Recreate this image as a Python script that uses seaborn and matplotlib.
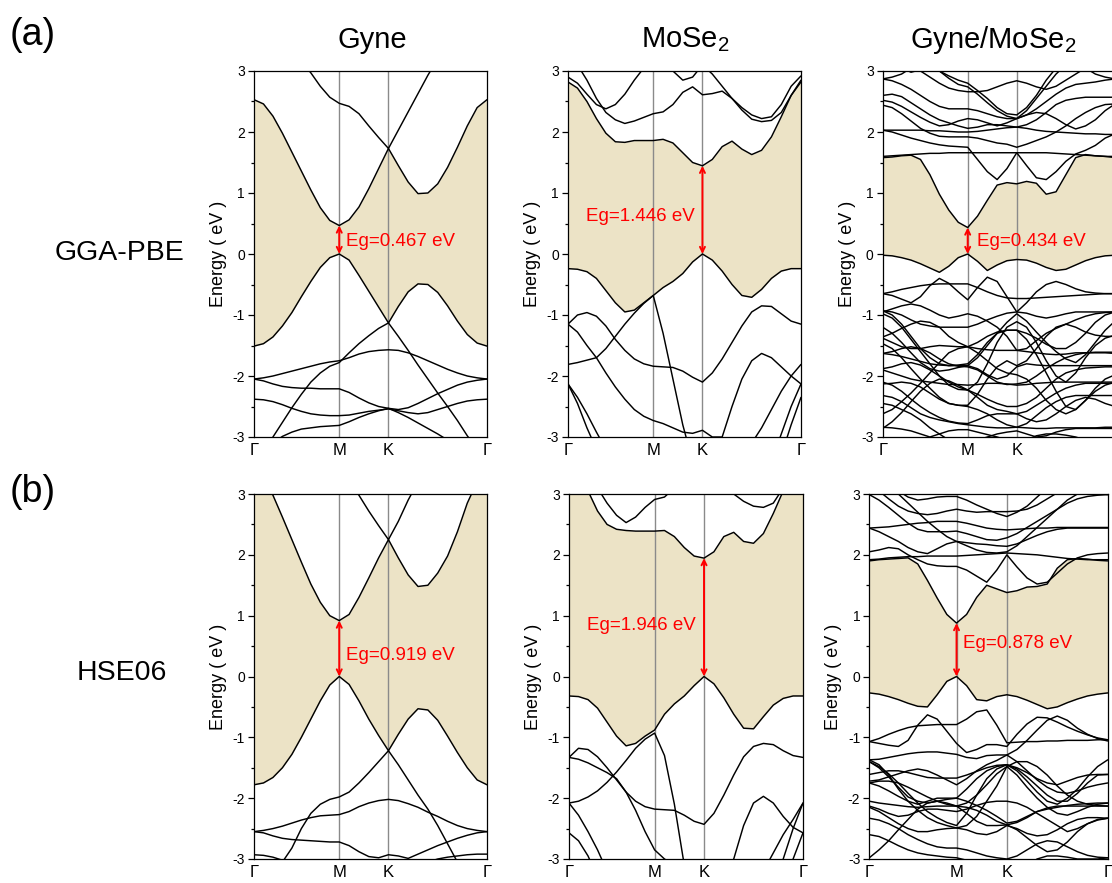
import numpy as np
import pandas as pd
import matplotlib
matplotlib.use("Agg")
import matplotlib.pyplot as plt
import seaborn as sns

sns.set_style("ticks")
plt.rcParams['font.family'] = ['Liberation Sans', 'DejaVu Sans']
plt.rcParams['mathtext.fontset'] = 'custom'
plt.rcParams['mathtext.rm'] = 'Liberation Sans'
plt.rcParams['mathtext.it'] = 'Liberation Sans:italic'
plt.rcParams['axes.unicode_minus'] = False
for key in ('text.color', 'axes.labelcolor', 'xtick.color', 'ytick.color', 'axes.edgecolor'):
    plt.rcParams[key] = 'black'

# ---------------- data ----------------
# high-symmetry path Γ-M-K-Γ (segment lengths) and samples per segment
SEG_LEN = [0.577, 0.333, 0.667]
SEG_STEPS = [9, 5, 10]
K_LABELS = ["Γ", "M", "K", "Γ"]

# Gyne, GGA-PBE
gyne_pbe_vb1 = [-1.51, -1.47, -1.36, -1.18, -0.96, -0.70, -0.45, -0.22, -0.06, 0.0, -0.10, -0.35, -0.61, -0.87, -1.13,
                -0.86, -0.62, -0.49, -0.50, -0.63, -0.85, -1.10, -1.32, -1.46, -1.51]
gyne_pbe_cb1 = [2.53, 2.46, 2.26, 1.98, 1.67, 1.36, 1.05, 0.76, 0.55, 0.467, 0.56, 0.77, 1.07, 1.40, 1.73,
                1.45, 1.18, 0.99, 1.00, 1.15, 1.42, 1.75, 2.10, 2.40, 2.53]
gyne_pbe_other = [
    [3.9, 3.8, 3.7, 3.55, 3.4, 3.15, 2.97, 2.75, 2.57, 2.47, 2.42, 2.30, 2.10, 1.91, 1.73, 2.03, 2.33, 2.63, 2.93, 3.2, 3.45, 3.65, 3.8, 3.9, 3.95],
    [-3.6, -3.3, -3.0, -2.76, -2.52, -2.30, -2.10, -1.95, -1.84, -1.78, -1.62, -1.47, -1.34, -1.22, -1.13, -1.35, -1.58, -1.82, -2.05, -2.28, -2.50, -2.73, -2.98, -3.2, -3.4],
    [-2.05, -2.03, -2.00, -1.96, -1.92, -1.88, -1.84, -1.80, -1.77, -1.75, -1.70, -1.64, -1.60, -1.58, -1.57, -1.58, -1.62, -1.68, -1.75, -1.82, -1.89, -1.95, -2.00, -2.03, -2.05],
    [-2.05, -2.08, -2.13, -2.17, -2.19, -2.20, -2.20, -2.21, -2.21, -2.21, -2.27, -2.36, -2.44, -2.50, -2.53, -2.55, -2.52, -2.45, -2.37, -2.29, -2.22, -2.15, -2.10, -2.07, -2.05],
    [-2.38, -2.39, -2.42, -2.47, -2.53, -2.58, -2.62, -2.64, -2.65, -2.65, -2.64, -2.61, -2.58, -2.56, -2.54, -2.57, -2.60, -2.62, -2.60, -2.55, -2.50, -2.45, -2.41, -2.39, -2.38],
    [-3.5, -3.3, -3.1, -2.99, -2.92, -2.87, -2.85, -2.83, -2.82, -2.81, -2.75, -2.68, -2.62, -2.57, -2.53, -2.60, -2.68, -2.77, -2.86, -2.95, -3.05, -3.15, -3.25, -3.35, -3.4],
]

# MoSe2, GGA-PBE
mose2_pbe_vb1 = [-0.24, -0.25, -0.29, -0.40, -0.60, -0.80, -0.95, -0.92, -0.80, -0.68, -0.55, -0.45, -0.32, -0.13, 0.0,
                 -0.10, -0.28, -0.50, -0.68, -0.71, -0.58, -0.40, -0.28, -0.24, -0.24]
mose2_pbe_cb1 = [2.82, 2.72, 2.50, 2.22, 1.98, 1.84, 1.83, 1.86, 1.86, 1.86, 1.88, 1.82, 1.66, 1.50, 1.446,
                 1.55, 1.76, 1.85, 1.72, 1.63, 1.70, 1.92, 2.25, 2.60, 2.82]
mose2_pbe_other = [
    [3.3, 3.1, 2.85, 2.55, 2.32, 2.20, 2.14, 2.18, 2.24, 2.30, 2.33, 2.45, 2.65, 2.74, 2.61, 2.63, 2.67, 2.55, 2.36, 2.21, 2.17, 2.19, 2.32, 2.60, 2.85],
    [2.90, 2.80, 2.62, 2.45, 2.38, 2.45, 2.62, 2.85, 3.05, 3.2, 3.15, 3.0, 2.85, 2.9, 3.1, 2.95, 2.75, 2.55, 2.40, 2.28, 2.22, 2.25, 2.45, 2.75, 2.92],
    [-1.15, -1.00, -0.96, -1.02, -1.18, -1.40, -1.58, -1.72, -1.80, -1.84, -1.85, -1.86, -1.92, -2.02, -2.10, -1.95, -1.72, -1.45, -1.18, -0.95, -0.85, -0.86, -0.98, -1.10, -1.15],
    [-1.15, -1.28, -1.50, -1.70, -1.95, -2.18, -2.38, -2.55, -2.66, -2.73, -2.78, -2.85, -2.92, -2.94, -2.89, -3.0, -3.0, -2.5, -2.05, -1.75, -1.63, -1.70, -1.85, -2.0, -2.13],
    [-1.81, -1.78, -1.74, -1.70, -1.55, -1.35, -1.15, -0.97, -0.81, -0.68, -1.30, -2.05, -2.80, -3.4, -3.6, -3.6, -3.6, -3.5, -3.3, -3.1, -2.85, -2.55, -2.25, -2.0, -1.81],
    [-2.13, -2.35, -2.62, -2.92, -3.2, -3.5, -3.7, -3.8, -3.9, -3.9, -3.9, -3.9, -3.9, -3.9, -3.9, -3.9, -3.9, -3.9, -3.9, -3.9, -3.7, -3.4, -2.95, -2.5, -2.13],
    [-2.13, -2.45, -2.85, -3.2, -3.5, -3.7, -3.9, -4.0, -4.0, -4.0, -4.0, -4.0, -4.0, -4.0, -4.0, -4.0, -4.0, -4.0, -4.0, -4.0, -4.0, -3.7, -3.3, -2.8, -2.35],
]

# Gyne/MoSe2, GGA-PBE
het_pbe_vb1 = [-0.02, -0.03, -0.06, -0.10, -0.16, -0.23, -0.30, -0.20, -0.06, 0.0, -0.12, -0.27, -0.18, -0.11, -0.09,
               -0.10, -0.15, -0.22, -0.27, -0.25, -0.18, -0.11, -0.06, -0.03, -0.02]
het_pbe_cb1 = [1.58, 1.59, 1.61, 1.62, 1.55, 1.30, 0.98, 0.72, 0.52, 0.434, 0.62, 0.88, 1.13, 1.17, 1.15,
               1.19, 1.16, 0.98, 1.02, 1.30, 1.58, 1.63, 1.61, 1.60, 1.58]
het_pbe_other = [
    [1.60, 1.61, 1.62, 1.63, 1.64, 1.65, 1.65, 1.66, 1.66, 1.66, 1.66, 1.66, 1.66, 1.66, 1.66, 1.66, 1.66, 1.66, 1.65, 1.64, 1.63, 1.62, 1.61, 1.60, 1.60],
    [2.03, 2.00, 1.95, 1.90, 1.86, 1.82, 1.79, 1.77, 1.76, 1.75, 1.55, 1.35, 1.22, 1.40, 1.66, 1.45, 1.25, 1.22, 1.35, 1.52, 1.64, 1.70, 1.78, 1.90, 1.97],
    [2.03, 2.03, 2.03, 2.03, 2.03, 2.02, 2.02, 2.01, 2.00, 2.00, 2.01, 2.03, 2.05, 2.07, 2.08, 2.06, 2.03, 2.01, 2.00, 1.99, 1.98, 1.97, 1.97, 1.96, 1.96],
    [2.44, 2.40, 2.30, 2.18, 2.06, 1.98, 1.93, 1.92, 1.92, 1.92, 1.90, 1.86, 1.82, 1.80, 1.75, 1.80, 1.86, 1.92, 2.0, 2.10, 2.22, 2.32, 2.40, 2.45, 2.46],
    [2.52, 2.49, 2.42, 2.33, 2.24, 2.16, 2.10, 2.12, 2.18, 2.22, 2.20, 2.15, 2.10, 2.15, 2.22, 2.28, 2.32, 2.30, 2.22, 2.12, 2.05, 2.10, 2.20, 2.35, 2.46],
    [2.60, 2.62, 2.58, 2.48, 2.38, 2.28, 2.20, 2.15, 2.10, 2.06, 2.08, 2.12, 2.12, 2.10, 2.08, 2.12, 2.20, 2.32, 2.45, 2.52, 2.55, 2.57, 2.57, 2.57, 2.57],
    [2.87, 2.84, 2.78, 2.70, 2.60, 2.50, 2.42, 2.38, 2.38, 2.38, 2.35, 2.30, 2.25, 2.22, 2.22, 2.28, 2.38, 2.50, 2.62, 2.72, 2.78, 2.80, 2.82, 2.85, 2.87],
    [2.87, 2.90, 2.95, 3.05, 3.0, 2.90, 2.80, 2.72, 2.68, 2.66, 2.66, 2.68, 2.74, 2.80, 2.84, 2.80, 2.74, 2.70, 2.75, 2.85, 2.95, 3.05, 2.95, 2.90, 2.87],
    [3.3, 3.2, 3.05, 2.98, 3.02, 3.1, 3.0, 2.88, 2.78, 2.74, 2.62, 2.48, 2.35, 2.26, 2.22, 2.35, 2.55, 2.75, 2.95, 3.1, 3.2, 3.3, 3.3, 3.3, 3.3],
    [3.5, 3.5, 3.4, 3.3, 3.2, 3.1, 3.0, 2.92, 2.85, 2.80, 2.68, 2.55, 2.40, 2.30, 2.28, 2.40, 2.6, 2.85, 3.05, 3.2, 3.3, 3.4, 3.5, 3.5, 3.5],
    [-0.65, -0.62, -0.58, -0.55, -0.52, -0.50, -0.49, -0.49, -0.49, -0.49, -0.55, -0.62, -0.68, -0.72, -0.73, -0.73, -0.72, -0.71, -0.70, -0.69, -0.68, -0.67, -0.66, -0.65, -0.65],
    [-0.65, -0.68, -0.74, -0.80, -0.70, -0.52, -0.40, -0.48, -0.62, -0.75, -0.55, -0.38, -0.45, -0.70, -0.95, -0.80, -0.62, -0.50, -0.45, -0.50, -0.57, -0.62, -0.64, -0.65, -0.65],
    [-0.93, -0.95, -1.00, -1.08, -1.15, -1.18, -1.20, -1.20, -1.20, -1.20, -1.15, -1.08, -1.02, -0.97, -0.95, -0.97, -1.02, -1.05, -1.02, -0.98, -0.95, -0.95, -0.95, -0.95, -0.95],
    [-0.98, -1.05, -1.20, -1.40, -1.60, -1.80, -2.00, -2.15, -2.22, -2.23, -2.10, -1.80, -1.45, -1.20, -1.11, -1.20, -1.45, -1.75, -2.00, -2.10, -1.95, -1.70, -1.50, -1.38, -1.33],
    [-1.36, -1.30, -1.22, -1.15, -1.10, -1.12, -1.20, -1.35, -1.45, -1.52, -1.45, -1.35, -1.28, -1.25, -1.25, -1.30, -1.38, -1.48, -1.55, -1.55, -1.45, -1.30, -1.12, -1.00, -0.95],
    [-1.38, -1.45, -1.52, -1.55, -1.55, -1.52, -1.50, -1.51, -1.52, -1.52, -1.55, -1.57, -1.58, -1.58, -1.58, -1.60, -1.62, -1.64, -1.65, -1.64, -1.62, -1.62, -1.61, -1.61, -1.61],
    [-1.47, -1.55, -1.70, -1.88, -2.05, -2.20, -2.35, -2.45, -2.48, -2.48, -2.30, -2.05, -1.85, -1.75, -1.83, -1.75, -1.55, -1.35, -1.20, -1.15, -1.20, -1.28, -1.33, -1.35, -1.35],
    [-1.63, -1.65, -1.68, -1.72, -1.76, -1.80, -1.82, -1.83, -1.83, -1.83, -1.88, -1.98, -2.05, -2.00, -1.85, -1.80, -1.82, -1.83, -1.83, -1.83, -1.83, -1.83, -1.83, -1.83, -1.83],
    [-1.63, -1.60, -1.55, -1.52, -1.55, -1.62, -1.72, -1.80, -1.84, -1.85, -1.90, -2.00, -2.10, -2.14, -2.13, -2.10, -2.00, -1.88, -1.78, -1.70, -1.65, -1.62, -1.62, -1.62, -1.63],
    [-1.88, -1.85, -1.80, -1.78, -1.82, -1.90, -2.00, -2.10, -2.18, -2.23, -2.30, -2.38, -2.45, -2.50, -2.50, -2.45, -2.35, -2.20, -2.05, -1.95, -1.90, -1.87, -1.86, -1.85, -1.85],
    [-1.90, -1.95, -2.00, -2.05, -2.08, -2.10, -2.12, -2.14, -2.14, -2.15, -2.14, -2.12, -2.12, -2.13, -2.15, -2.14, -2.12, -2.11, -2.10, -2.10, -2.10, -2.10, -2.10, -2.10, -2.10],
    [-2.10, -2.15, -2.25, -2.38, -2.50, -2.60, -2.68, -2.74, -2.77, -2.78, -2.72, -2.65, -2.62, -2.62, -2.62, -2.58, -2.48, -2.38, -2.28, -2.20, -2.15, -2.12, -2.12, -2.12, -2.12],
    [-2.13, -2.12, -2.10, -2.12, -2.18, -2.28, -2.38, -2.45, -2.48, -2.50, -2.55, -2.62, -2.72, -2.80, -2.84, -2.78, -2.65, -2.52, -2.42, -2.35, -2.32, -2.32, -2.32, -2.32, -2.32],
    [-2.32, -2.35, -2.42, -2.52, -2.62, -2.68, -2.72, -2.75, -2.78, -2.80, -2.82, -2.84, -2.85, -2.85, -2.84, -2.85, -2.86, -2.86, -2.85, -2.85, -2.85, -2.85, -2.85, -2.84, -2.84],
    [-2.45, -2.48, -2.55, -2.62, -2.72, -2.85, -2.95, -3.05, -3.1, -3.1, -3.05, -3.0, -2.95, -2.92, -2.90, -2.95, -3.0, -2.98, -2.92, -2.88, -2.86, -2.86, -2.86, -2.86, -2.86],
    [-2.84, -2.85, -2.87, -2.90, -2.95, -3.0, -2.95, -2.90, -2.88, -2.88, -2.92, -2.96, -3.0, -3.05, -3.1, -3.05, -2.98, -2.95, -2.95, -2.97, -3.0, -3.05, -3.1, -3.1, -3.1],
    [-0.93, -1.00, -1.15, -1.35, -1.55, -1.70, -1.80, -1.83, -1.82, -1.80, -1.65, -1.45, -1.30, -1.25, -1.25, -1.40, -1.65, -1.95, -2.25, -2.50, -2.55, -2.40, -2.20, -2.05, -1.98],
    [-1.20, -1.30, -1.45, -1.62, -1.78, -1.88, -1.92, -1.90, -1.86, -1.83, -1.70, -1.50, -1.30, -1.12, -0.98, -1.10, -1.28, -1.45, -1.60, -1.72, -1.78, -1.65, -1.45, -1.25, -1.10],
    [-2.62, -2.55, -2.42, -2.28, -2.12, -1.95, -1.78, -1.62, -1.55, -1.52, -1.62, -1.75, -1.88, -1.95, -1.98, -2.05, -2.20, -2.40, -2.55, -2.62, -2.55, -2.40, -2.25, -2.15, -2.10],
    [-2.86, -2.75, -2.60, -2.42, -2.25, -2.12, -2.05, -2.08, -2.15, -2.23, -2.35, -2.48, -2.55, -2.58, -2.62, -2.70, -2.75, -2.72, -2.62, -2.50, -2.40, -2.35, -2.38, -2.45, -2.50],
    [-0.95, -0.90, -0.85, -0.82, -0.85, -0.92, -1.00, -1.05, -1.02, -0.98, -1.02, -1.10, -1.20, -1.35, -1.58, -1.55, -1.42, -1.30, -1.22, -1.15, -1.08, -1.02, -0.98, -0.96, -0.95],
]

# Gyne, HSE06
gyne_hse_vb1 = [-1.78, -1.75, -1.66, -1.50, -1.28, -1.00, -0.70, -0.40, -0.14, 0.0, -0.13, -0.40, -0.70, -0.97, -1.22,
                -0.95, -0.70, -0.53, -0.55, -0.72, -0.98, -1.25, -1.50, -1.70, -1.78]
gyne_hse_cb1 = [3.5, 3.28, 2.98, 2.62, 2.25, 1.88, 1.52, 1.22, 1.00, 0.919, 1.02, 1.30, 1.62, 1.95, 2.25,
                1.95, 1.67, 1.48, 1.50, 1.70, 1.98, 2.38, 2.85, 3.2, 3.4]
gyne_hse_other = [
    [4.2, 4.0, 3.9, 3.8, 3.7, 3.6, 3.5, 3.45, 3.4, 3.4, 3.2, 2.98, 2.72, 2.48, 2.25, 2.55, 2.90, 3.2, 3.5, 3.7, 3.9, 4.0, 4.1, 4.2, 4.2],
    [-3.8, -3.6, -3.35, -3.05, -2.82, -2.50, -2.25, -2.10, -2.02, -1.98, -1.90, -1.75, -1.58, -1.40, -1.22, -1.45, -1.70, -1.95, -2.18, -2.45, -2.75, -3.05, -3.3, -3.5, -3.7],
    [-2.55, -2.53, -2.50, -2.46, -2.41, -2.36, -2.32, -2.29, -2.28, -2.27, -2.22, -2.14, -2.08, -2.04, -2.02, -2.04, -2.09, -2.15, -2.23, -2.30, -2.38, -2.45, -2.50, -2.53, -2.55],
    [-2.55, -2.57, -2.62, -2.66, -2.68, -2.69, -2.70, -2.71, -2.72, -2.72, -2.78, -2.88, -2.96, -2.98, -2.93, -2.95, -2.99, -2.92, -2.85, -2.78, -2.72, -2.66, -2.61, -2.57, -2.55],
    [-2.93, -2.94, -2.97, -3.02, -3.1, -3.2, -3.3, -3.4, -3.5, -3.5, -3.45, -3.4, -3.3, -3.2, -3.1, -3.1, -3.05, -3.1, -3.05, -3.0, -2.97, -2.95, -2.93, -2.92, -2.92],
]

# MoSe2, HSE06
mose2_hse_vb1 = [-0.32, -0.33, -0.38, -0.52, -0.75, -0.98, -1.14, -1.10, -0.98, -0.88, -0.62, -0.45, -0.32, -0.15, 0.0,
                 -0.12, -0.35, -0.62, -0.85, -0.86, -0.66, -0.47, -0.36, -0.32, -0.32]
mose2_hse_cb1 = [3.4, 3.2, 3.05, 2.72, 2.50, 2.42, 2.40, 2.39, 2.39, 2.39, 2.40, 2.30, 2.12, 1.98, 1.946,
                 2.05, 2.30, 2.37, 2.22, 2.19, 2.35, 2.68, 3.05, 3.3, 3.4]
mose2_hse_other = [
    [3.6, 3.5, 3.35, 3.1, 2.85, 2.65, 2.53, 2.62, 2.78, 2.91, 2.95, 3.1, 3.3, 3.4, 3.35, 3.2, 3.1, 3.0, 2.88, 2.80, 2.78, 2.85, 3.1, 3.3, 3.5],
    [-1.33, -1.18, -1.20, -1.32, -1.50, -1.70, -1.90, -2.05, -2.14, -2.18, -2.19, -2.20, -2.28, -2.38, -2.43, -2.25, -1.95, -1.62, -1.32, -1.15, -1.10, -1.12, -1.22, -1.30, -1.33],
    [-1.33, -1.36, -1.42, -1.50, -1.58, -1.68, -1.90, -2.20, -2.55, -2.85, -3.0, -3.1, -3.2, -3.3, -3.3, -3.3, -3.2, -3.0, -2.45, -2.08, -1.97, -2.08, -2.30, -2.48, -2.57],
    [-2.08, -2.05, -1.98, -1.88, -1.74, -1.57, -1.38, -1.18, -1.03, -0.93, -1.30, -2.10, -3.10, -3.6, -3.8, -3.8, -3.8, -3.7, -3.6, -3.4, -3.2, -2.9, -2.6, -2.35, -2.08],
    [-2.08, -2.28, -2.55, -2.85, -3.2, -3.5, -3.7, -3.8, -3.9, -3.9, -3.9, -3.9, -3.9, -3.9, -3.9, -3.9, -3.9, -3.9, -3.9, -3.9, -3.9, -3.6, -3.0, -2.5, -2.08],
    [-2.57, -2.70, -2.95, -3.3, -3.6, -3.8, -4.0, -4.0, -4.0, -4.0, -4.0, -4.0, -4.0, -4.0, -4.0, -4.0, -4.0, -4.0, -4.0, -4.0, -4.0, -4.0, -3.6, -3.0, -2.57],
]

# Gyne/MoSe2, HSE06
het_hse_vb1 = [-0.27, -0.29, -0.33, -0.38, -0.44, -0.49, -0.50, -0.30, -0.08, 0.0, -0.15, -0.38, -0.40, -0.33, -0.30,
               -0.33, -0.39, -0.46, -0.53, -0.50, -0.43, -0.37, -0.32, -0.29, -0.27]
het_hse_cb1 = [1.90, 1.92, 1.93, 1.94, 1.95, 1.85, 1.58, 1.29, 1.02, 0.878, 1.02, 1.30, 1.50, 1.44, 1.38,
               1.41, 1.47, 1.48, 1.52, 1.78, 1.92, 1.94, 1.93, 1.91, 1.90]
het_hse_other = [
    [1.92, 1.93, 1.95, 1.96, 1.97, 1.97, 1.98, 1.98, 1.98, 1.98, 1.99, 2.00, 2.01, 2.02, 2.03, 2.02, 2.01, 2.00, 1.98, 1.96, 1.94, 1.93, 1.92, 1.92, 1.92],
    [2.05, 2.08, 2.12, 2.10, 2.0, 1.92, 1.85, 1.82, 1.81, 1.81, 1.75, 1.65, 1.55, 1.75, 2.00, 1.80, 1.62, 1.52, 1.55, 1.70, 1.85, 1.95, 2.0, 2.02, 2.03],
    [2.44, 2.45, 2.46, 2.48, 2.50, 2.52, 2.53, 2.55, 2.55, 2.55, 2.52, 2.48, 2.44, 2.42, 2.41, 2.42, 2.43, 2.44, 2.44, 2.45, 2.45, 2.45, 2.45, 2.45, 2.45],
    [2.44, 2.38, 2.30, 2.22, 2.12, 2.05, 2.02, 2.10, 2.18, 2.22, 2.20, 2.18, 2.17, 2.15, 2.14, 2.18, 2.25, 2.32, 2.38, 2.42, 2.44, 2.44, 2.44, 2.44, 2.44],
    [2.99, 2.90, 2.78, 2.65, 2.52, 2.42, 2.38, 2.38, 2.38, 2.39, 2.35, 2.30, 2.25, 2.24, 2.28, 2.35, 2.45, 2.55, 2.65, 2.75, 2.85, 2.92, 2.96, 2.98, 2.99],
    [3.2, 3.05, 2.92, 2.80, 2.72, 2.68, 2.66, 2.68, 2.72, 2.75, 2.72, 2.70, 2.71, 2.71, 2.71, 2.72, 2.75, 2.82, 2.92, 3.02, 3.1, 3.2, 3.3, 3.3, 3.3],
    [3.4, 3.3, 3.2, 3.05, 2.95, 2.90, 2.92, 2.95, 2.96, 2.96, 2.90, 2.82, 2.75, 2.68, 2.63, 2.70, 2.80, 2.95, 3.1, 3.2, 3.3, 3.4, 3.4, 3.4, 3.4],
    [2.99, 3.05, 3.1, 3.0, 2.85, 2.70, 2.55, 2.42, 2.30, 2.22, 2.15, 2.08, 2.04, 2.03, 2.05, 2.15, 2.30, 2.45, 2.60, 2.75, 2.90, 3.0, 3.05, 3.02, 2.99],
    [-1.07, -1.02, -0.95, -0.89, -0.84, -0.81, -0.80, -0.79, -0.79, -0.79, -0.70, -0.58, -0.55, -0.80, -1.09, -1.08, -1.07, -1.07, -1.06, -1.06, -1.05, -1.05, -1.05, -1.04, -1.04],
    [-1.07, -1.10, -1.13, -1.15, -1.05, -0.80, -0.63, -0.70, -0.90, -1.10, -1.25, -1.20, -1.12, -1.12, -1.15, -0.95, -0.78, -0.67, -0.68, -0.75, -0.83, -0.90, -0.96, -1.01, -1.04],
    [-1.37, -1.36, -1.33, -1.30, -1.27, -1.25, -1.24, -1.24, -1.26, -1.28, -1.33, -1.35, -1.30, -1.29, -1.29, -1.20, -1.05, -0.88, -0.72, -0.65, -0.72, -0.85, -0.95, -1.02, -1.06],
    [-1.40, -1.48, -1.60, -1.75, -1.92, -2.08, -2.22, -2.32, -2.40, -2.45, -2.25, -1.95, -1.68, -1.52, -1.45, -1.55, -1.72, -1.90, -2.05, -2.10, -2.00, -1.85, -1.65, -1.48, -1.37],
    [-1.61, -1.58, -1.55, -1.55, -1.58, -1.62, -1.66, -1.67, -1.67, -1.67, -1.62, -1.56, -1.50, -1.46, -1.45, -1.50, -1.58, -1.68, -1.75, -1.78, -1.72, -1.66, -1.62, -1.61, -1.61],
    [-1.72, -1.70, -1.65, -1.60, -1.55, -1.52, -1.55, -1.62, -1.70, -1.78, -1.68, -1.55, -1.45, -1.38, -1.29, -1.40, -1.55, -1.70, -1.82, -1.90, -1.92, -1.88, -1.82, -1.78, -1.75],
    [-1.75, -1.80, -1.88, -1.97, -2.05, -2.10, -2.05, -2.00, -2.00, -2.00, -2.05, -2.12, -2.20, -2.30, -2.41, -2.38, -2.30, -2.22, -2.18, -2.15, -2.12, -2.10, -2.09, -2.08, -2.08],
    [-2.05, -2.08, -2.10, -2.12, -2.14, -2.15, -2.14, -2.13, -2.13, -2.13, -2.15, -2.20, -2.28, -2.38, -2.44, -2.40, -2.32, -2.22, -2.16, -2.13, -2.13, -2.13, -2.13, -2.13, -2.13],
    [-2.13, -2.18, -2.25, -2.30, -2.28, -2.22, -2.18, -2.18, -2.20, -2.22, -2.18, -2.12, -2.07, -2.05, -2.05, -2.08, -2.15, -2.25, -2.35, -2.45, -2.55, -2.50, -2.42, -2.36, -2.33],
    [-2.15, -2.22, -2.32, -2.42, -2.50, -2.55, -2.55, -2.52, -2.50, -2.49, -2.52, -2.58, -2.60, -2.55, -2.45, -2.50, -2.58, -2.62, -2.60, -2.52, -2.42, -2.35, -2.32, -2.32, -2.33],
    [-2.33, -2.36, -2.42, -2.50, -2.60, -2.68, -2.75, -2.80, -2.82, -2.82, -2.85, -2.90, -2.95, -2.98, -3.0, -2.95, -2.85, -2.75, -2.70, -2.72, -2.80, -2.88, -2.94, -2.97, -2.98],
    [-2.60, -2.63, -2.70, -2.78, -2.85, -2.90, -2.93, -2.95, -2.97, -2.98, -3.02, -3.1, -3.2, -3.3, -3.3, -3.2, -3.1, -3.0, -2.95, -2.95, -2.97, -3.0, -3.0, -3.0, -2.98],
    [-1.37, -1.45, -1.62, -1.85, -2.05, -2.20, -2.32, -2.40, -2.45, -2.49, -2.45, -2.30, -2.05, -1.80, -1.48, -1.40, -1.40, -1.48, -1.62, -1.80, -1.95, -2.05, -2.10, -2.12, -2.13],
    [-1.40, -1.50, -1.65, -1.82, -1.98, -2.05, -2.08, -2.05, -2.02, -2.00, -1.85, -1.68, -1.55, -1.48, -1.45, -1.52, -1.65, -1.80, -1.95, -2.05, -2.05, -1.92, -1.75, -1.62, -1.61],
    [-2.98, -2.85, -2.70, -2.52, -2.35, -2.18, -2.08, -2.05, -2.08, -2.13, -2.25, -2.38, -2.45, -2.45, -2.44, -2.52, -2.65, -2.78, -2.88, -2.85, -2.72, -2.55, -2.42, -2.35, -2.33],
    [-1.75, -1.72, -1.72, -1.75, -1.82, -1.90, -1.98, -2.05, -2.10, -2.13, -2.08, -1.95, -1.78, -1.60, -1.48, -1.62, -1.82, -2.00, -2.15, -2.25, -2.28, -2.22, -2.15, -2.10, -2.08],
]

# band gaps and where they sit
EG_VALUES = [0.467, 1.446, 0.434, 0.919, 1.946, 0.878]
EG_NODE = ["M", "K", "M", "M", "K", "M"]
COL_TITLES = ["Gyne", "MoSe$_2$", "Gyne/MoSe$_2$"]
ROW_TITLES = ["GGA-PBE", "HSE06"]
ROW_TAGS = ["(a)", "(b)"]

# ---------------- helpers ----------------
def k_path():
    pts = [0.0]
    start = 0.0
    nodes = [0.0]
    for L, n in zip(SEG_LEN, SEG_STEPS):
        pts += list(start + L * np.arange(1, n + 1) / n)
        start += L
        nodes.append(start)
    return np.array(pts), nodes

KPTS, KNODES = k_path()
NODE_POS = {"M": KNODES[1], "K": KNODES[2]}

W, H = 1112, 883
fig = plt.figure(figsize=(W / 100, H / 100), dpi=100)

def rect(x0, x1, ytop, ybot):
    return [x0 / W, 1 - ybot / H, (x1 - x0) / W, (ybot - ytop) / H]

RECTS = [rect(254, 487, 71, 437), rect(568, 801, 71, 437), rect(882.7, 1115, 71, 437),
         rect(254, 487, 494, 859), rect(569, 803, 494, 859), rect(869.3, 1107.7, 494, 859)]

PANELS = [
    (gyne_pbe_vb1, gyne_pbe_cb1, gyne_pbe_other),
    (mose2_pbe_vb1, mose2_pbe_cb1, mose2_pbe_other),
    (het_pbe_vb1, het_pbe_cb1, het_pbe_other),
    (gyne_hse_vb1, gyne_hse_cb1, gyne_hse_other),
    (mose2_hse_vb1, mose2_hse_cb1, mose2_hse_other),
    (het_hse_vb1, het_hse_cb1, het_hse_other),
]
# label placement (x offset from node in path units, y in eV, alignment)
LABEL_POS = [(0.045, 0.20, "left"), (-0.055, 0.62, "right"), (0.06, 0.20, "left"),
             (0.045, 0.34, "left"), (-0.055, 0.84, "right"), (0.045, 0.55, "left")]

FILL = "#ece3c6"

for i, (vb1, cb1, others) in enumerate(PANELS):
    ax = fig.add_axes(RECTS[i])
    bands = [vb1, cb1] + others
    df = pd.DataFrame({
        "k": np.tile(KPTS, len(bands)),
        "E": np.concatenate([np.asarray(b, float) for b in bands]),
        "band": np.repeat(np.arange(len(bands)), len(KPTS)),
    })
    ax.fill_between(KPTS, vb1, cb1, color=FILL, lw=0, zorder=0)
    for node in ("M", "K"):
        ax.axvline(NODE_POS[node], color="#8a8a8a", lw=1.0, zorder=1)
    sns.lineplot(data=df, x="k", y="E", units="band", estimator=None, sort=False,
                 color="black", lw=1.05, ax=ax, zorder=2, legend=False)
    ax.set_xlim(0, KNODES[-1])
    ax.set_ylim(-3, 3)
    ax.set_xticks(KNODES)
    labels = list(K_LABELS)
    if i == 2:
        labels[-1] = ""   # cut off by the figure edge in the original
    ax.set_xticklabels(labels, fontsize=12)
    ax.set_yticks(range(-3, 4))
    ax.set_yticks(np.arange(-2.5, 3, 1.0), minor=True)
    ax.tick_params(axis="y", which="major", direction="out", length=4.5, width=0.9, labelsize=10, pad=2)
    ax.tick_params(axis="y", which="minor", direction="out", length=2.5, width=0.9)
    ax.tick_params(axis="x", which="major", direction="out", length=0, labelsize=12, pad=4)
    ax.set_xlabel("")
    ax.set_ylabel("Energy ( eV )", fontsize=13, labelpad=4)
    for s in ax.spines.values():
        s.set_linewidth(0.9)
        s.set_color("black")
        s.set_zorder(5)
    # band-gap arrow
    kx = NODE_POS[EG_NODE[i]]
    eg = EG_VALUES[i]
    ax.annotate("", xy=(kx, eg), xytext=(kx, 0.0),
                arrowprops=dict(arrowstyle="<->", color="red", lw=1.4,
                                shrinkA=0, shrinkB=0, mutation_scale=9), zorder=6)
    dx, ty, ha = LABEL_POS[i]
    ax.text(kx + dx, ty, f"Eg={eg:.3f} eV", color="red", fontsize=13.5, ha=ha, va="center", zorder=6)

# column titles
for x, t in zip([372, 685, 993], COL_TITLES):
    fig.text(x / W, 1 - 40 / H, t, fontsize=21, ha="center", va="center")
# row titles and tags
fig.text(120 / W, 1 - 253 / H, ROW_TITLES[0], fontsize=20.5, ha="center", va="center")
fig.text(122 / W, 1 - 673 / H, ROW_TITLES[1], fontsize=20.5, ha="center", va="center")
fig.text(10 / W, 1 - 35 / H, ROW_TAGS[0], fontsize=27, ha="left", va="center")
fig.text(10 / W, 1 - 492 / H, ROW_TAGS[1], fontsize=27, ha="left", va="center")

fig.savefig("out.png", dpi=100)
